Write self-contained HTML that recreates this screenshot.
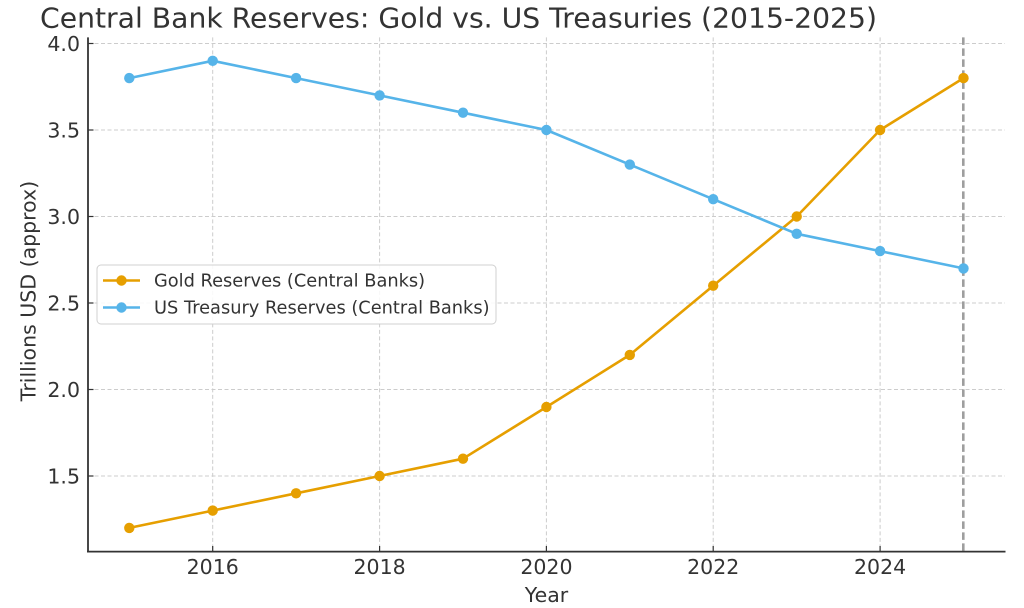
<!DOCTYPE html>
<html>
<head>
<meta charset="utf-8">
<style>
  html, body { margin: 0; padding: 0; background: #ffffff; }
  svg { display: block; }
  text { font-family: "DejaVu Sans", "Liberation Sans", sans-serif; fill: #333333; }
</style>
</head>
<body>
<svg width="1024" height="608" viewBox="0 0 1024 608" xmlns="http://www.w3.org/2000/svg">
  <rect x="0" y="0" width="1024" height="608" fill="#ffffff"/>

  <!-- Title -->
  <text x="40" y="27.5" font-size="27.3" textLength="837" lengthAdjust="spacingAndGlyphs">Central Bank Reserves: Gold vs. US Treasuries (2015-2025)</text>

  <!-- Grid -->
  <g stroke="#cccccc" stroke-width="1" stroke-dasharray="4,2.5" fill="none">
    <line x1="88" y1="476" x2="1005" y2="476"/>
    <line x1="88" y1="389.5" x2="1005" y2="389.5"/>
    <line x1="88" y1="303" x2="1005" y2="303"/>
    <line x1="88" y1="216.5" x2="1005" y2="216.5"/>
    <line x1="88" y1="130" x2="1005" y2="130"/>
    <line x1="88" y1="43.5" x2="1005" y2="43.5"/>
    <line x1="212.7" y1="37.4" x2="212.7" y2="551.5"/>
    <line x1="379.6" y1="37.4" x2="379.6" y2="551.5"/>
    <line x1="546.4" y1="37.4" x2="546.4" y2="551.5"/>
    <line x1="713.2" y1="37.4" x2="713.2" y2="551.5"/>
    <line x1="880.1" y1="37.4" x2="880.1" y2="551.5"/>
  </g>

  <!-- Vertical dashed line at 2025 -->
  <line x1="963.3" y1="37.4" x2="963.3" y2="551.5" stroke="#9e9e9e" stroke-width="2.6" stroke-dasharray="7.5,3.5"/>

  <!-- Spines -->
  <line x1="88" y1="37.4" x2="88" y2="552.5" stroke="#333333" stroke-width="1.8"/>
  <line x1="87" y1="551.6" x2="1005.5" y2="551.6" stroke="#333333" stroke-width="1.8"/>

  <!-- Ticks (inward) -->
  <g stroke="#333333" stroke-width="1.2">
    <line x1="212.7" y1="551.5" x2="212.7" y2="546"/>
    <line x1="379.6" y1="551.5" x2="379.6" y2="546"/>
    <line x1="546.4" y1="551.5" x2="546.4" y2="546"/>
    <line x1="713.2" y1="551.5" x2="713.2" y2="546"/>
    <line x1="880.1" y1="551.5" x2="880.1" y2="546"/>
    <line x1="88" y1="476" x2="93.5" y2="476"/>
    <line x1="88" y1="389.5" x2="93.5" y2="389.5"/>
    <line x1="88" y1="303" x2="93.5" y2="303"/>
    <line x1="88" y1="216.5" x2="93.5" y2="216.5"/>
    <line x1="88" y1="130" x2="93.5" y2="130"/>
    <line x1="88" y1="43.5" x2="93.5" y2="43.5"/>
  </g>

  <!-- X tick labels -->
  <g font-size="20.5" text-anchor="middle">
    <text x="212.7" y="574">2016</text>
    <text x="379.6" y="574">2018</text>
    <text x="546.4" y="574">2020</text>
    <text x="713.2" y="574">2022</text>
    <text x="880.1" y="574">2024</text>
  </g>

  <!-- Y tick labels -->
  <g font-size="20.5" text-anchor="end">
    <text x="80" y="483.5">1.5</text>
    <text x="80" y="397">2.0</text>
    <text x="80" y="310.5">2.5</text>
    <text x="80" y="224">3.0</text>
    <text x="80" y="137.5">3.5</text>
    <text x="80" y="51">4.0</text>
  </g>

  <!-- Axis labels -->
  <text x="546.5" y="602" font-size="20.5" text-anchor="middle">Year</text>
  <text transform="translate(35.5,291) rotate(-90)" font-size="20.5" text-anchor="middle">Trillions USD (approx)</text>

  <!-- Gold series -->
  <polyline fill="none" stroke="#E69F00" stroke-width="2.6" stroke-linejoin="round"
    points="129.3,527.9 212.7,510.6 296.1,493.3 379.6,476 463.0,458.7 546.4,407.0 629.8,354.9 713.2,285.7 796.7,216.5 880.1,130 963.5,78.1"/>
  <g fill="#E69F00">
    <circle cx="129.3" cy="527.9" r="5.2"/>
    <circle cx="212.7" cy="510.6" r="5.2"/>
    <circle cx="296.1" cy="493.3" r="5.2"/>
    <circle cx="379.6" cy="476" r="5.2"/>
    <circle cx="463.0" cy="458.7" r="5.2"/>
    <circle cx="546.4" cy="407.0" r="5.2"/>
    <circle cx="629.8" cy="354.9" r="5.2"/>
    <circle cx="713.2" cy="285.7" r="5.2"/>
    <circle cx="796.7" cy="216.5" r="5.2"/>
    <circle cx="880.1" cy="130" r="5.2"/>
    <circle cx="963.5" cy="78.1" r="5.2"/>
  </g>

  <!-- Treasury series -->
  <polyline fill="none" stroke="#56B4E9" stroke-width="2.6" stroke-linejoin="round"
    points="129.3,78.1 212.7,60.8 296.1,78.1 379.6,95.4 463.0,112.7 546.4,130 629.8,164.6 713.2,199.2 796.7,233.8 880.1,251.1 963.5,268.4"/>
  <g fill="#56B4E9">
    <circle cx="129.3" cy="78.1" r="5.2"/>
    <circle cx="212.7" cy="60.8" r="5.2"/>
    <circle cx="296.1" cy="78.1" r="5.2"/>
    <circle cx="379.6" cy="95.4" r="5.2"/>
    <circle cx="463.0" cy="112.7" r="5.2"/>
    <circle cx="546.4" cy="130" r="5.2"/>
    <circle cx="629.8" cy="164.6" r="5.2"/>
    <circle cx="713.2" cy="199.2" r="5.2"/>
    <circle cx="796.7" cy="233.8" r="5.2"/>
    <circle cx="880.1" cy="251.1" r="5.2"/>
    <circle cx="963.5" cy="268.4" r="5.2"/>
  </g>

  <!-- Legend -->
  <rect x="97" y="265" width="399" height="59" rx="4" ry="4" fill="#ffffff" fill-opacity="0.85" stroke="#d0d0d0" stroke-width="1"/>
  <line x1="103" y1="280.5" x2="140" y2="280.5" stroke="#E69F00" stroke-width="2.6"/>
  <circle cx="121.5" cy="280.5" r="5.2" fill="#E69F00"/>
  <line x1="103" y1="307.5" x2="140" y2="307.5" stroke="#56B4E9" stroke-width="2.6"/>
  <circle cx="121.5" cy="307.5" r="5.2" fill="#56B4E9"/>
  <text x="154" y="286.7" font-size="17.8">Gold Reserves (Central Banks)</text>
  <text x="154" y="313.7" font-size="17.8">US Treasury Reserves (Central Banks)</text>
</svg>
</body>
</html>
